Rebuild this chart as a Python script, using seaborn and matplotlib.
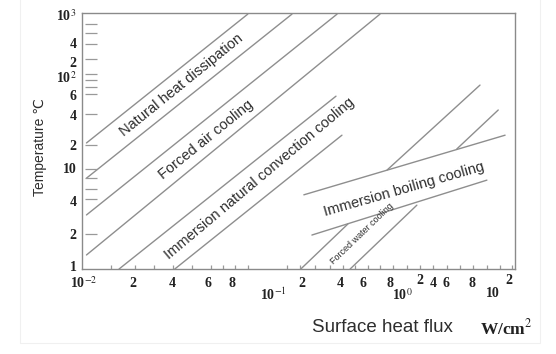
import seaborn as sns
import matplotlib.pyplot as plt
import pandas as pd
from matplotlib.patches import Rectangle

LINE, AXIS, TEXT = '#8e8e8e', '#8a8a8a', '#2e2e2e'

sns.set_theme(style='white')
plt.rcParams['font.family'] = ['Liberation Sans', 'DejaVu Sans']
plt.rcParams['mathtext.fontset'] = 'stix'

# boundary lines: heat flux (W/cm2) vs temperature rise (C)
seg_name   = ['natural_top', 'natural_air', 'air_conv', 'conv_top', 'conv_mid', 'conv_low',
              'boil_top', 'boil_low', 'water_a', 'water_b', 'water_c', 'water_d']
flux_start = [0.011, 0.011, 0.011, 0.011, 0.022, 0.072, 1.12, 1.33, 1.05, 3.0, 6.6, 29]
temp_start = [30, 11.6, 4.3, 1.46, 1, 1, 7.4, 2.5, 1, 1, 14.5, 25.5]
flux_end   = [0.34, 0.87, 2.27, 5.66, 2.22, 2.52, 81, 55, 2.86, 12.4, 47.5, 70]
temp_end   = [970, 970, 970, 970, 106, 37, 37, 11, 3.37, 5.6, 143, 73]

# region labels
region_text = ['Natural heat dissipation', 'Forced air cooling',
               'Immersion natural convection cooling', 'Immersion boiling cooling',
               'Forced water cooling']
region_pos  = [(0.229, 0.719), (0.286, 0.504), (0.409, 0.355), (0.744, 0.312), (0.647, 0.137)]
region_rot  = [39, 39, 40, 16, 44]
region_size = [10.5, 10.5, 10.5, 10.5, 6.5]

# tick labels as printed on the (distorted) original axes
x_tick_labels = ['10$^{-2}$', '2', '4', '6', '8', '10$^{-1}$', '2', '4', '6', '8',
                 '10$^{0}$', '2', '4', '6', '8', '10', '2']
x_tick_pos    = [0.005, 0.118, 0.208, 0.291, 0.346, 0.441, 0.508, 0.596, 0.649, 0.711,
                 0.741, 0.781, 0.811, 0.841, 0.901, 0.949, 0.986]
x_tick_row    = [-0.055, -0.055, -0.055, -0.055, -0.055, -0.102, -0.055, -0.055, -0.055, -0.055,
                 -0.102, -0.043, -0.055, -0.055, -0.055, -0.095, -0.043]
x_marks = [111, 135, 154, 173, 192, 211, 223, 235, 248, 287, 300, 315, 330, 343, 355, 368,
           380, 393, 407, 420, 433, 447, 460, 473, 487, 500, 512]

y_tick_labels = ['10$^{3}$', '4', '2', '10$^{2}$', '6', '4', '2', '10', '4', '2', '1']
y_tick_pos    = [0.988, 0.875, 0.801, 0.746, 0.672, 0.594, 0.480, 0.387, 0.258, 0.129, 0.004]
y_marks = [24, 33, 44, 59, 74, 80, 87, 94, 114, 145, 169, 178, 189, 199, 234]

rows = []
for name, x0, y0, x1, y1 in zip(seg_name, flux_start, temp_start, flux_end, temp_end):
    rows += [{'seg': name, 'flux': x0, 'temp': y0}, {'seg': name, 'flux': x1, 'temp': y1}]
df = pd.DataFrame(rows)

fig = plt.figure(figsize=(5.56, 3.54), dpi=100, facecolor='white')
fig.patches.append(Rectangle((20 / 556, 11 / 354), 520 / 556, 360 / 354, transform=fig.transFigure,
                             fill=False, edgecolor='#f0f0f0', lw=0.8))
ax = fig.add_axes([82 / 556, 85 / 354, 433 / 556, 256 / 354])
ax.set_xscale('log')
ax.set_yscale('log')
sns.lineplot(data=df, x='flux', y='temp', units='seg', estimator=None, sort=False,
             color=LINE, linewidth=1.0, ax=ax)
ax.set_xlim(1e-2, 1e2)
ax.set_ylim(1, 1e3)
ax.set_xlabel('')
ax.set_ylabel('')
ax.tick_params(which='both', length=0, labelbottom=False, labelleft=False)
for sp in ax.spines.values():
    sp.set_edgecolor(AXIS)
    sp.set_linewidth(1.0)

# hand-drawn style tick marks
ax.vlines([(p - 82) / 433 for p in x_marks], 0, 0.016, transform=ax.transAxes, color='#999999', lw=0.9)
ax.hlines([(269 - p) / 256 for p in y_marks], 0.008, 0.035, transform=ax.transAxes, color='#999999', lw=0.9)

for s, xp, yp in zip(x_tick_labels, x_tick_pos, x_tick_row):
    ax.text(xp, yp, s, transform=ax.transAxes, ha='center', va='center',
            family='Liberation Serif', fontweight='bold', fontsize=10, color='#222222')
for s, yp in zip(y_tick_labels, y_tick_pos):
    ax.text(-0.012, yp, s, transform=ax.transAxes, ha='right', va='center',
            family='Liberation Serif', fontweight='bold', fontsize=10, color='#222222')

for s, (xp, yp), rot, fs in zip(region_text, region_pos, region_rot, region_size):
    ax.text(xp, yp, s, transform=ax.transAxes, ha='center', va='center', rotation=rot,
            rotation_mode='anchor', fontsize=fs, color=TEXT)

fig.text(40 / 556, 207 / 354, 'Temperature \u2103', rotation=90, ha='center', va='center',
         fontsize=10, color=TEXT)
fig.text(382 / 556, 26 / 354, 'Surface heat flux', ha='center', va='center', fontsize=13.5, color=TEXT)
fig.text(506 / 556, 26 / 354, 'W/cm$^{2}$', ha='center', va='center', fontsize=12.5,
         family='Liberation Serif', fontweight='bold', color='#222222')

plt.savefig('out.png', dpi=100, facecolor='white')
